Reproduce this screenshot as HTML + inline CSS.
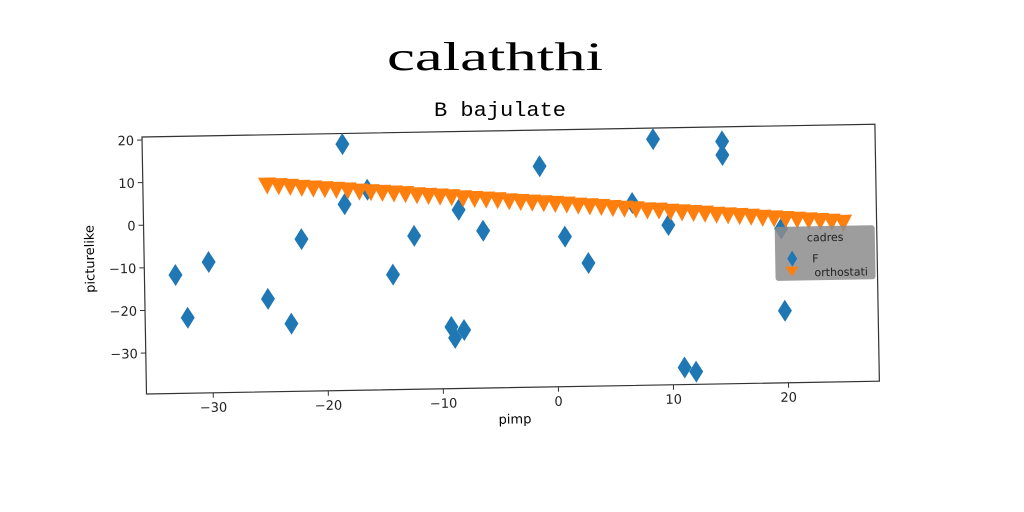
<!DOCTYPE html>
<html><head><meta charset="utf-8"><style>
html,body{margin:0;padding:0;background:#fff}
svg{display:block}
text{font-family:"DejaVu Sans","Liberation Sans",sans-serif}
</style></head><body>
<svg id="chart" width="1024" height="512" viewBox="0 0 1024 512" xmlns="http://www.w3.org/2000/svg">
<rect width="1024" height="512" fill="#fff"/>
<text x="387" y="70" font-size="40" textLength="216" lengthAdjust="spacingAndGlyphs" style="font-family:'Liberation Serif','Noto Serif CJK SC',serif">calaththi</text>
<text x="434" y="116" font-size="20" textLength="132" lengthAdjust="spacingAndGlyphs" style="font-family:'Liberation Mono','WenQuanYi Zen Hei',monospace">B bajulate</text>
<g id="axes" transform="rotate(-1,142,137)">
<rect x="142" y="137" width="733" height="257" fill="none" stroke="#333" stroke-width="1.2"/>
<g id="ticks"></g>
<g id="marks"></g>
<text x="510" y="430" font-size="13" text-anchor="middle">pimp</text>
<text transform="translate(92,258) rotate(-90)" font-size="13" text-anchor="middle">picturelike</text>
<g transform="translate(0,12)">
<rect x="773" y="226" width="100" height="54" rx="3" fill="#8c8c8c" fill-opacity="0.85"/>
<text x="805" y="241" font-size="11" fill="#222">cadres</text>
<path d="M790,250 l5,8 l-5,8 l-5,-8z" fill="#1f77b4"/>
<text x="810" y="262" font-size="11" fill="#222">F</text>
<path d="M783,266 l13,0 l-6.5,10z" fill="#ff7f0e"/>
<text x="812" y="276" font-size="11" fill="#222">orthostati</text>
</g>
</g>
</svg>
<script>
const xTicks=[-30,-20,-10,0,10,20];
const yTicks=[20,10,0,-10,-20,-30];
const fX=[-33.1,-32.1,-30.2,-25.1,-23.1,-22.1,-18.4,-18.3,-16.3,-14.2,-12.3,-9.2,-8.9,-8.1,-8.4,-6.3,-1.3,0.8,2.8,6.7,8.6,9.8,11.0,12.0,14.6,14.6,19.6,19.8];
const fY=[-11.8,-21.9,-8.9,-17.8,-23.7,-3.9,18.2,4.1,7.4,-12.6,-3.6,-25.1,-27.7,-25.9,2.3,-2.7,12.2,-4.4,-10.7,3.2,18.1,-2.1,-35.6,-36.6,17.3,14.1,-3.4,-22.7];
const oX=[-25,-24,-23,-22,-21,-20,-19,-18,-17,-16,-15,-14,-13,-12,-11,-10,-9,-8,-7,-6,-5,-4,-3,-2,-1,0,1,2,3,4,5,6,7,8,9,10,11,12,13,14,15,16,17,18,19,20,21,22,23,24,25];
const oY=[8.8,8.6,8.4,8.1,7.9,7.7,7.5,7.3,7.0,6.8,6.6,6.4,6.2,5.9,5.7,5.5,5.3,5.0,4.8,4.6,4.4,4.1,3.9,3.7,3.5,3.3,3.1,2.8,2.6,2.4,2.1,1.9,1.7,1.4,1.3,1.0,0.8,0.6,0.4,0.1,-0.1,-0.3,-0.5,-0.8,-1.0,-1.2,-1.4,-1.6,-1.8,-2.0,-2.3];
const NS='http://www.w3.org/2000/svg';
const L=142,R=875,T=137,B=394,x0=-35.8,x1=27.9,y0=-39.6,y1=20.7;
const sx=v=>L+(v-x0)/(x1-x0)*(R-L);
const sy=v=>B-(v-y0)/(y1-y0)*(B-T);
function mk(tag,attrs,parent){const e=document.createElementNS(NS,tag);for(const k in attrs)e.setAttribute(k,attrs[k]);parent.appendChild(e);return e;}
const ticks=document.getElementById('ticks');
xTicks.forEach(v=>{
 const l=mk('line',{x1:sx(v),x2:sx(v),y1:B,y2:B+5,stroke:'#333'},ticks);
 
 
 const t=mk('text',{x:sx(v),y:B+19,'font-size':13,'text-anchor':'middle',fill:'#222'},ticks);
 t.textContent=(v<0?'\u2212'+(-v):v);
 
 
});
yTicks.forEach(v=>{
 const l=mk('line',{x1:L-5,x2:L,y1:sy(v),y2:sy(v),stroke:'#333'},ticks);
 
 
 const t=mk('text',{x:L-8,y:sy(v)+5,'font-size':13,'text-anchor':'end',fill:'#222'},ticks);
 t.textContent=(v<0?'\u2212'+(-v):v);
 
 
});
const marks=document.getElementById('marks');
fX.forEach((v,i)=>{
 const cx=sx(v),cy=sy(fY[i]);
 const p=mk('path',{d:`M${cx},${cy-11} L${cx+7},${cy} L${cx},${cy+11} L${cx-7},${cy}Z`,fill:'#1f77b4'},marks);
 
 
});
oX.forEach((v,i)=>{
 const cx=sx(v),cy=sy(oY[i]);
 const p=mk('path',{d:`M${cx-9},${cy-8} L${cx+9},${cy-8} L${cx},${cy+9}Z`,fill:'#ff7f0e'},marks);
 
 
});
</script>
</body></html>
